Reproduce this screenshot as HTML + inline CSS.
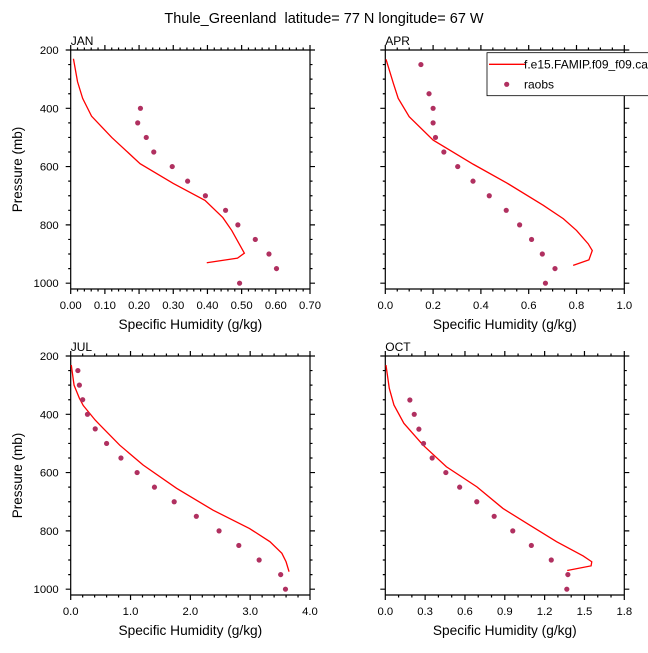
<!DOCTYPE html>
<html><head><meta charset="utf-8"><style>
body{margin:0;background:#fff;}
svg text{font-family:"Liberation Sans",sans-serif;fill:#000;}
</style></head><body>
<svg id="svg" width="648" height="648" viewBox="0 0 648 648" xmlns="http://www.w3.org/2000/svg">
<text x="324" y="23" font-size="14.5" text-anchor="middle">Thule_Greenland &#160;latitude= 77 N longitude= 67 W</text>
</svg>
<script>
const janModelQ=[0.008,0.02,0.035,0.061,0.12,0.203,0.30,0.393,0.445,0.471,0.508,0.488,0.398];
const janModelP=[230,309,366,427,500,590,658,716,775,819,897,914,930];
const janObsQ=[0.204,0.196,0.221,0.243,0.297,0.342,0.394,0.453,0.489,0.54,0.58,0.602,0.494];
const janObsP=[400,450,500,550,600,650,700,750,800,850,900,950,1000];
const aprModelQ=[0.003,0.034,0.054,0.10,0.2,0.368,0.508,0.661,0.745,0.8,0.849,0.866,0.852,0.786];
const aprModelP=[232,315,366,429,509,592,656,733,779,819,865,888,920,939];
const aprObsQ=[0.149,0.183,0.2,0.2,0.21,0.245,0.303,0.367,0.435,0.506,0.562,0.612,0.657,0.71,0.67];
const aprObsP=[250,350,400,450,500,550,600,650,700,750,800,850,900,950,1000];
const julModelQ=[0.01,0.056,0.145,0.21,0.41,0.49,0.82,1.21,1.77,2.38,2.99,3.33,3.53,3.6,3.65];
const julModelP=[231,300,345,370,420,437,506,574,654,729,792,837,877,906,940];
const julObsQ=[0.12,0.145,0.2,0.28,0.41,0.6,0.84,1.11,1.4,1.73,2.1,2.48,2.81,3.15,3.51,3.59];
const julObsP=[250,300,350,400,450,500,550,600,650,700,750,800,850,900,950,1000];
const octModelQ=[0.005,0.03,0.065,0.14,0.285,0.46,0.69,0.886,1.087,1.29,1.49,1.555,1.55,1.37];
const octModelP=[231,311,368,431,506,580,649,723,780,837,886,906,920,936];
const octObsQ=[0.185,0.218,0.253,0.288,0.353,0.456,0.56,0.689,0.82,0.96,1.1,1.25,1.375,1.367];
const octObsP=[351,400,451,500,550,600,650,700,750,800,850,900,950,1000];
const janXTicks=["0.00","0.10","0.20","0.30","0.40","0.50","0.60","0.70"];
const aprXTicks=["0.0","0.2","0.4","0.6","0.8","1.0"];
const julXTicks=["0.0","1.0","2.0","3.0","4.0"];
const octXTicks=["0.0","0.3","0.6","0.9","1.2","1.5","1.8"];
const yTicks=[200,400,600,800,1000];

const NS="http://www.w3.org/2000/svg";
const svg=document.getElementById('svg');
function mk(t,a,p){const e=document.createElementNS(NS,t);for(const k in a)e.setAttribute(k,a[k]);(p||svg).appendChild(e);return e;}
const P0=200,P1=1020;
function panel(name,x0,y0,w,h,xmax,xt,minorN,mq,mp,oq,op,showY){
  const g=mk('g',{});
  
  
  const sx=v=>x0+v/xmax*w;
  const sy=p=>y0+(p-P0)/(P1-P0)*h;
  const ax=mk('path',{fill:'none',stroke:'#000','stroke-width':1.2},g);
  let d=`M${x0},${y0}H${x0+w}V${y0+h}H${x0}Z`;
  const n=xt.length-1;
  for(let i=0;i<=n*minorN;i++){const x=x0+i*w/(n*minorN);const L=(i%minorN==0)?5:2.5;d+=`M${x},${y0}v${-L}M${x},${y0+h}v${L}`;}
  for(let p=200;p<=1000;p+=50){const y=sy(p);const L=(p%200==0)?5:2.5;d+=`M${x0},${y}h${-L}M${x0+w},${y}h${L}`;}
  ax.setAttribute('d',d);
  
  
  xt.forEach((t,i)=>{const e=mk('text',{x:x0+i*w/n,y:y0+h+20,'font-size':11.3,'text-anchor':'middle'},g);e.textContent=t;
    
    });
  if(showY){yTicks.forEach(p=>{const e=mk('text',{x:x0-12,y:sy(p)+4,'font-size':11.3,'text-anchor':'end'},g);e.textContent=p;
    
    });
    const yt=mk('text',{x:0,y:0,'font-size':13.5,'text-anchor':'middle',transform:`translate(22,${y0+h/2}) rotate(-90)`},g);yt.textContent='Pressure (mb)';
    
    }
  const xtt=mk('text',{x:x0+w/2,y:y0+h+40,'font-size':13.7,'text-anchor':'middle'},g);xtt.textContent='Specific Humidity (g/kg)';
  
  
  const lb=mk('text',{x:x0,y:y0-5,'font-size':12},g);lb.textContent=name.toUpperCase();
  
  
  const line=mk('polyline',{fill:'none',stroke:'#f00','stroke-width':1.3,points:mq.map((q,i)=>sx(q)+','+sy(mp[i])).join(' ')},g);
  
  
  oq.forEach((q,i)=>{const c=mk('circle',{cx:sx(q),cy:sy(op[i]),r:2.6,fill:'#b03060'},g);
    
    });
}
panel('jan',70.7,50,239.3,239,0.7,janXTicks,5,janModelQ,janModelP,janObsQ,janObsP,true);
panel('apr',385.3,50,239,239,1.0,aprXTicks,4,aprModelQ,aprModelP,aprObsQ,aprObsP,false);
panel('jul',70.7,356,239.3,239,4.0,julXTicks,5,julModelQ,julModelP,julObsQ,julObsP,true);
panel('oct',385.3,356,239,239,1.8,octXTicks,3,octModelQ,octModelP,octObsQ,octObsP,false);
const lg=mk('g',{});


mk('rect',{x:487,y:52.7,width:170,height:43,fill:'#fff',stroke:'#000','stroke-width':0.8},lg);
const ll=mk('line',{x1:489,y1:64.3,x2:525,y2:64.3,stroke:'#f00','stroke-width':1.3},lg);


const t1=mk('text',{x:524,y:68.5,'font-size':12},lg);t1.textContent='f.e15.FAMIP.f09_f09.cam';


const ld=mk('circle',{cx:506.7,cy:84.3,r:2.6,fill:'#b03060'},lg);


const t2=mk('text',{x:524,y:88.5,'font-size':12},lg);t2.textContent='raobs';


</script>
</body></html>
